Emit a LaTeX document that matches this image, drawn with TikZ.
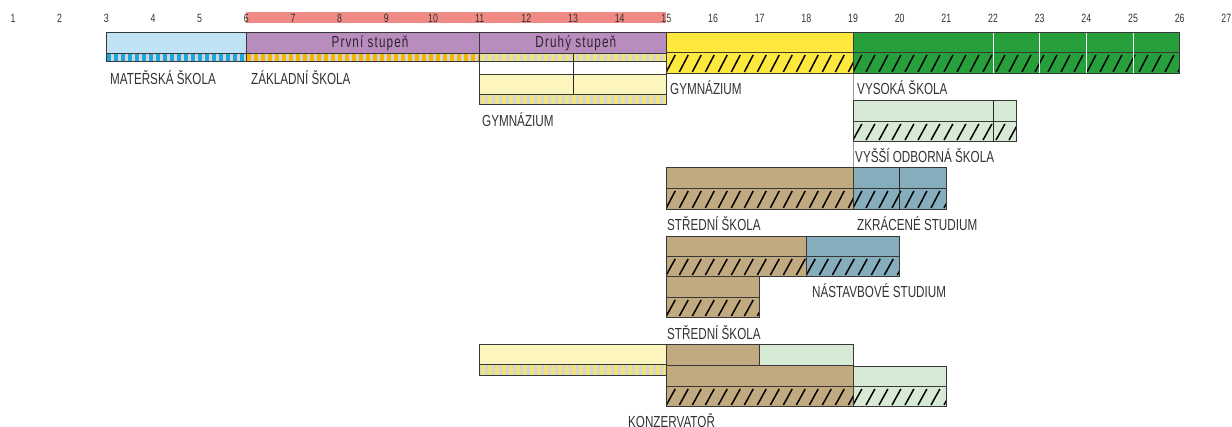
\documentclass[tikz,border=0pt]{standalone}
\usepackage{fontspec}
\setmainfont{Liberation Sans}[FakeStretch=0.73]
\newfontfamily\innerfont{Liberation Sans}[FakeStretch=0.73,LetterSpace=7]
\definecolor{lblue}{HTML}{BFE3F5}
\definecolor{purp}{HTML}{B88DBD}
\definecolor{cyanbar}{HTML}{19A7E0}
\definecolor{greybar}{HTML}{D2D5D8}
\definecolor{orangebar}{HTML}{F7B500}
\definecolor{yellowbar}{HTML}{F3E47A}
\definecolor{pyellow}{HTML}{FCF5BD}
\definecolor{gyellow}{HTML}{FFE83D}
\definecolor{grn}{HTML}{27A03C}
\definecolor{pgreen}{HTML}{D6EAD5}
\definecolor{tan}{HTML}{C1AA7F}
\definecolor{steel}{HTML}{86ADBB}
\definecolor{redbar}{HTML}{EF8A84}
\definecolor{txt}{HTML}{333333}
\newcommand{\hatchbox}[5]{%
  \fill[#5] (#1,#3) rectangle (#2,#4);
  \begin{scope}
    \clip (#1,#3) rectangle (#2,#4);
    \foreach \s in {-1,...,26}{%
      \draw[line width=1.5pt,black] ({#1+\s*0.2786},{#4-2}) -- ({#1+\s*0.2786+0.19},{#3+2});}
  \end{scope}
  \draw[bd] (#1,#3) rectangle (#2,#4);}
\newcommand{\stripebox}[6]{%
  \fill[#6] (#1,#3) rectangle (#2,#4);
  \begin{scope}
    \clip (#1,#3) rectangle (#2,#4);
    \foreach \s in {0,...,40}{%
      \fill[#5] ({#1+(\s*7+1)/46.667},#3) rectangle ({#1+(\s*7+5)/46.667},#4);}
  \end{scope}
  \draw[bd] (#1,#3) rectangle (#2,#4);}
\newcommand{\plainbox}[5]{\draw[bd,fill=#5] (#1,#3) rectangle (#2,#4);}
\begin{document}
\begin{tikzpicture}[x=46.667pt,y=-1pt,
  bd/.style={draw=black!78,line width=1pt},
  lbl/.style={anchor=base west,inner sep=0pt,text=txt,font=\fontsize{16}{16}\selectfont},
  num/.style={anchor=base,inner sep=0pt,text=txt,font=\fontsize{12}{12}\selectfont},
  inner/.style={anchor=base,inner sep=0pt,text=black!75!purp,font=\innerfont\fontsize{16}{16}\selectfont},
  divl/.style={draw=black!85,line width=1pt}]
\useasboundingbox (0.7214,0) rectangle (27.1214,427);
% age scale
\fill[redbar] (6,12.5) rectangle (15,23.5);
\foreach \n in {1,...,27}{\node[num] (n\n) at (\n,23) {\n};}
% row 1
\plainbox{3}{6}{33}{54}{lblue}
\stripebox{3}{6}{54}{62}{cyanbar}{greybar}
\plainbox{6}{11}{33}{54}{purp}
\stripebox{6}{11}{54}{62}{orangebar}{greybar}
\plainbox{11}{15}{33}{54}{purp}
\stripebox{11}{15}{54}{62}{yellowbar}{greybar}
\draw[divl] (13,54) -- (13,62);
\plainbox{11}{15}{62}{75}{white}
\plainbox{11}{15}{75}{95}{pyellow}
\draw[divl] (13,62) -- (13,95);
\stripebox{11}{15}{95}{105}{yellowbar}{greybar}
\node[inner] (prvni) at (8.65,48) {První stupeň};
\node[inner] (druhy) at (13.06,48) {Druhý stupeň};
% gymnazium + university
\plainbox{15}{19}{33}{53}{gyellow}
\hatchbox{15}{19}{53}{74}{gyellow}
\plainbox{19}{26}{33}{53}{grn}
\hatchbox{19}{26}{53}{74}{grn}
\foreach \k in {22,23,24,25}{\draw[white,line width=1pt] (\k,33.5) -- (\k,73.5);}
\draw[black!40,line width=0.6pt] (19,74) -- (19,168);
% VOS
\plainbox{19}{22.5}{101}{122}{pgreen}
\hatchbox{19}{22.5}{122}{142}{pgreen}
\draw[divl] (22,101) -- (22,142);
% stredni 1 + zkracene
\plainbox{15}{19}{168}{189}{tan}
\hatchbox{15}{19}{189}{210}{tan}
\plainbox{19}{21}{168}{189}{steel}
\hatchbox{19}{21}{189}{210}{steel}
\draw[divl] (20,168) -- (20,210);
% stredni 2 + nastavbove
\plainbox{15}{18}{237}{257}{tan}
\hatchbox{15}{18}{257}{277}{tan}
\plainbox{18}{20}{237}{257}{steel}
\hatchbox{18}{20}{257}{277}{steel}
% stredni 3
\plainbox{15}{17}{277}{298}{tan}
\hatchbox{15}{17}{298}{318}{tan}
% konzervator
\plainbox{11}{15}{345}{365}{pyellow}
\stripebox{11}{15}{365}{376}{yellowbar}{greybar}
\plainbox{15}{17}{345}{366}{tan}
\plainbox{17}{19}{345}{366}{pgreen}
\plainbox{15}{19}{366}{387}{tan}
\hatchbox{15}{19}{387}{407}{tan}
\plainbox{19}{21}{367}{387}{pgreen}
\hatchbox{19}{21}{387}{407}{pgreen}
% labels
\node[lbl] (ms) at (3.079,85) {MATEŘSKÁ ŠKOLA};
\node[lbl] (zs) at (6.10,85) {ZÁKLADNÍ ŠKOLA};
\node[lbl] (gym1) at (11.05,127) {GYMNÁZIUM};
\node[lbl] (gym2) at (15.078,95) {GYMNÁZIUM};
\node[lbl] (vs) at (19.086,95) {VYSOKÁ ŠKOLA};
\node[lbl] (vos) at (19.043,163) {VYŠŠÍ ODBORNÁ ŠKOLA};
\node[lbl] (ss1) at (15.014,231) {STŘEDNÍ ŠKOLA};
\node[lbl] (zk) at (19.086,231) {ZKRÁCENÉ STUDIUM};
\node[lbl] (nas) at (18.121,298) {NÁSTAVBOVÉ STUDIUM};
\node[lbl] (ss2) at (15.014,340) {STŘEDNÍ ŠKOLA};
\node[lbl] (konz) at (14.178,428) {KONZERVATOŘ};
\end{tikzpicture}
\end{document}
